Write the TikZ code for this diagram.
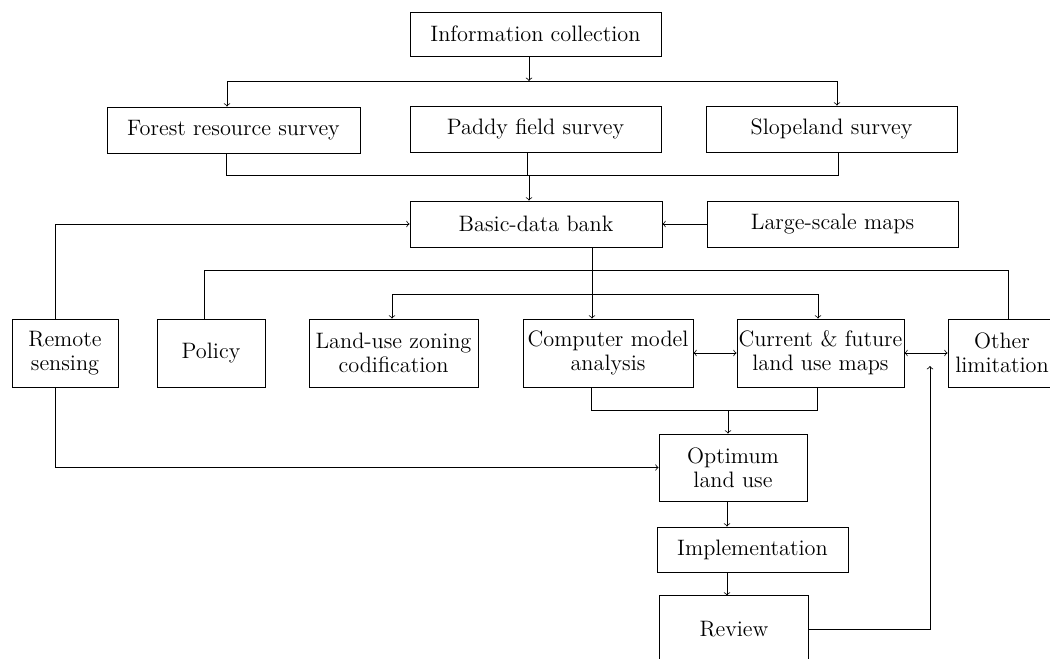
\documentclass[tikz,border=0pt]{standalone}
\usepackage{tikz}
\usetikzlibrary{
	arrows,
	shapes,
	calc
}

\tikzset{
	stage/.style={draw, black, line width=0.45pt, inner sep=0pt, align=center,
		font=\fontsize{12.7}{13.5}\selectfont},
	link/.style={black, line width=0.45pt}
}

\begin{document}
\begin{tikzpicture}[x=0.2mm, y=-0.2mm]
                \useasboundingbox (0,0) rectangle (1050,659);
                % boxes
                \node[stage, minimum width=5.02cm, minimum height=0.88cm] (info) at (535.5,34) {Information collection};
                \node[stage, minimum width=5.06cm, minimum height=0.92cm] (forest) at (233.5,130) {Forest resource survey};
                \node[stage, minimum width=5.02cm, minimum height=0.92cm] (paddy) at (535.5,129) {Paddy field survey};
                \node[stage, minimum width=5.02cm, minimum height=0.92cm] (slope) at (831.5,129) {Slopeland survey};
                \node[stage, minimum width=5.04cm, minimum height=0.92cm] (basic) at (536,224) {Basic-data bank};
                \node[stage, minimum width=5.02cm, minimum height=0.92cm] (maps) at (832.5,224) {Large-scale maps};
                \node[stage, minimum width=2.12cm, minimum height=1.36cm] (remote) at (65,353) {Remote\\sensing};
                \node[stage, minimum width=2.16cm, minimum height=1.36cm] (policy) at (211,353) {Policy};
                \node[stage, minimum width=3.38cm, minimum height=1.36cm] (zoning) at (393.5,353) {Land-use zoning\\codification};
                \node[stage, minimum width=3.4cm, minimum height=1.36cm] (model) at (608,353) {Computer model\\analysis};
                \node[stage, minimum width=3.34cm, minimum height=1.36cm] (landmaps) at (820.5,353) {Current \& future\\land use maps};
                \node[stage, minimum width=2.16cm, minimum height=1.36cm] (other) at (1002,353) {Other\\limitation};
                \node[stage, minimum width=2.96cm, minimum height=1.34cm] (optimum) at (733,467.5) {Optimum\\land use};
                \node[stage, minimum width=3.82cm, minimum height=0.9cm] (implem) at (752.5,549.5) {Implementation};
                \node[stage, draw=none, minimum width=2.96cm, minimum height=1.32cm] (review) at (734,629) {Review};
                \draw[link] (review.south west) |- (review.north east) -- (review.south east);

                % junctions
                \coordinate (splitL) at (227,81);
                \coordinate (splitR) at (837,81);
                \coordinate (splitM) at (529,81);
                \coordinate (mergeL) at (226,175);
                \coordinate (mergeR) at (838,175);
                \coordinate (mergeP) at (527,175);
                \coordinate (mergeM) at (529,175);
                \coordinate (rsUp) at (55,223);
                \coordinate (bankDown) at (592,294);
                \coordinate (wideL) at (204,270);
                \coordinate (wideR) at (1008,270);
                \coordinate (fanL) at (392,294);
                \coordinate (fanR) at (818,294);
                \coordinate (joinL) at (591,410);
                \coordinate (joinR) at (817,410);
                \coordinate (joinM) at (728,410);
                \coordinate (spine) at (727,0);
                \coordinate (back) at (930,366);

                % top part
                \draw[link, ->] (info.south -| splitM) -- (splitM);
                \draw[link] (splitL) -- (splitR);
                \draw[link, ->] (splitL) -- (splitL |- forest.north);
                \draw[link, ->] (splitR) -- (splitR |- slope.north);
                \draw[link] (forest.south -| mergeL) |- (mergeR) -- (slope.south -| mergeR);
                \draw[link] (paddy.south -| mergeP) -- (mergeP);
                \draw[link, ->] (mergeM) -- (mergeM |- basic.north);
                \draw[link, ->] (maps.west) -- (basic.east);
                \draw[link, ->] (remote.north -| rsUp) |- (basic.west);

                % middle part
                \draw[link, ->] (basic.south -| bankDown) -- (bankDown |- model.north);
                \draw[link] (policy.north -| wideL) |- (wideR) -- (other.north -| wideR);
                \draw[link] (fanL) -- (fanR);
                \draw[link, ->] (fanL) -- (fanL |- zoning.north);
                \draw[link, ->] (fanR) -- (fanR |- landmaps.north);
                \draw[link, <->] (model.east) -- (landmaps.west);
                \draw[link, <->] (landmaps.east) -- (other.west);

                % bottom part
                \draw[link] (model.south -| joinL) |- (joinR) -- (landmaps.south -| joinR);
                \draw[link, ->] (joinM) -- (joinM |- optimum.north);
                \draw[link, ->] (remote.south -| rsUp) |- (optimum.west);
                \draw[link, ->] (optimum.south -| spine) -- (implem.north -| spine);
                \draw[link, ->] (implem.south -| spine) -- (review.north -| spine);
                \draw[link, ->] (review.east) -| (back);
            \end{tikzpicture}
\end{document}
